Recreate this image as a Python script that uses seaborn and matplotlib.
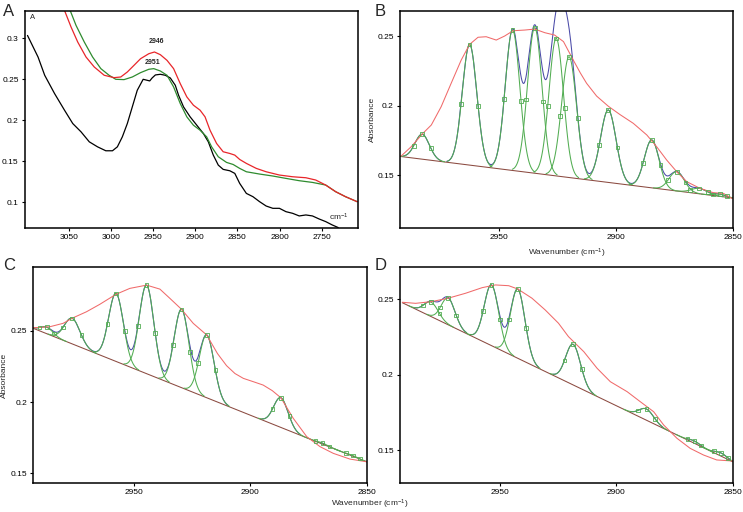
import numpy as np
import pandas as pd
import matplotlib
matplotlib.use('Agg')
import matplotlib.pyplot as plt
import seaborn as sns

# ---- panel A : raw spectra (wavenumber, absorbance) ----
a_black_wn = [3099, 3086.5, 3078.6, 3066.9, 3055.1, 3045.3, 3035.5, 3025.7, 3015.9, 3006.1,
              2998.2, 2992.4, 2986.5, 2980.6, 2974.7, 2968.8, 2961.8, 2957.1, 2954.0, 2951.2,
              2947.3, 2941.4, 2935.5, 2929.6, 2923.7, 2919.8, 2913.9, 2906.1, 2898.2, 2890.4,
              2884.5, 2878.6, 2872.7, 2866.9, 2859.0, 2853.1, 2847.3, 2839.4, 2831.6, 2823.7,
              2815.9, 2808.0, 2800.2, 2792.4, 2784.5, 2776.7, 2768.8, 2761.0, 2753.1, 2745.3,
              2737.5, 2730.4]
a_black_abs = [0.3032, 0.2769, 0.2546, 0.2323, 0.2120, 0.1957, 0.1856, 0.1734, 0.1673, 0.1625,
               0.1625, 0.1673, 0.1795, 0.1957, 0.2160, 0.2363, 0.2497, 0.2485, 0.2477, 0.2513,
               0.2550, 0.2558, 0.2546, 0.2513, 0.2424, 0.2302, 0.2160, 0.2039, 0.1937, 0.1836,
               0.1734, 0.1572, 0.1450, 0.1398, 0.1381, 0.1349, 0.1227, 0.1105, 0.1065, 0.1004,
               0.0951, 0.0923, 0.0923, 0.0882, 0.0862, 0.0830, 0.0842, 0.0830, 0.0793, 0.0761,
               0.0720, 0.0688]
a_red_wn = [3055.1, 3047.3, 3039.4, 3029.6, 3019.8, 3008.0, 2996.3, 2988.4, 2980.6, 2972.7,
            2964.9, 2955.1, 2948.4, 2941.4, 2933.5, 2925.7, 2917.8, 2910.0, 2902.2, 2894.3,
            2888.4, 2882.5, 2874.7, 2866.9, 2859.0, 2853.1, 2847.3, 2839.4, 2827.6, 2815.9,
            2800.2, 2784.5, 2768.8, 2757.1, 2745.3, 2733.5, 2721.8, 2708.0]
a_red_abs = [0.3337, 0.3134, 0.2951, 0.2769, 0.2647, 0.2546, 0.2517, 0.2525, 0.2586, 0.2667,
             0.2748, 0.2809, 0.2830, 0.2797, 0.2728, 0.2627, 0.2444, 0.2282, 0.2181, 0.2120,
             0.2039, 0.1876, 0.1714, 0.1613, 0.1592, 0.1572, 0.1519, 0.1471, 0.1410, 0.1369,
             0.1329, 0.1308, 0.1296, 0.1268, 0.1207, 0.1126, 0.1065, 0.1004]
a_green_wn = [3048.4, 3041.4, 3031.6, 3021.8, 3012.0, 3002.2, 2994.3, 2984.5, 2974.7, 2964.9,
              2955.1, 2949.2, 2941.4, 2933.5, 2925.7, 2917.8, 2910.0, 2902.2, 2894.3, 2886.5,
              2880.6, 2872.7, 2862.9, 2855.1, 2847.3, 2839.4, 2823.7, 2808.0, 2792.4, 2776.7,
              2761.0, 2745.3, 2733.5, 2721.8, 2708.0]
a_green_abs = [0.3337, 0.3154, 0.2951, 0.2769, 0.2627, 0.2546, 0.2497, 0.2493, 0.2525, 0.2578,
               0.2619, 0.2627, 0.2598, 0.2546, 0.2404, 0.2201, 0.2039, 0.1937, 0.1876, 0.1795,
               0.1673, 0.1552, 0.1483, 0.1458, 0.1410, 0.1369, 0.1341, 0.1317, 0.1288, 0.1260,
               0.1239, 0.1207, 0.1126, 0.1065, 0.1004]
a_peak_labels = ["2946", "2951"]
a_peak_wn = [2945.5, 2950.4]
a_peak_abs = [0.2963, 0.2707]

# ---- panel B : band fit ----
b_env_wn = [2992.0, 2987.7, 2982.7, 2979.1, 2974.9, 2970.6, 2966.3, 2962.7, 2959.1, 2955.6,
            2951.3, 2947.7, 2944.1, 2939.1, 2934.8, 2930.5, 2926.3, 2922.5, 2918.3, 2915.3,
            2912.6, 2908.3, 2903.3, 2898.3, 2892.6, 2886.8, 2882.6, 2878.3, 2874.0, 2869.7,
            2864.0, 2858.3, 2854.0, 2850.4]
b_env_abs = [0.1637, 0.1704, 0.1800, 0.1860, 0.1991, 0.2160, 0.2327, 0.2440, 0.2491, 0.2495,
             0.2471, 0.2500, 0.2538, 0.2543, 0.2550, 0.2524, 0.2507, 0.2460, 0.2327, 0.2235,
             0.2160, 0.2068, 0.1995, 0.1935, 0.1872, 0.1788, 0.1704, 0.1608, 0.1524, 0.1452,
             0.1404, 0.1373, 0.1368, 0.1332]
b_base_wn = [2993, 2850]
b_base_abs = [0.1635, 0.1335]
b_centers = [2983.0, 2962.7, 2944.3, 2934.8, 2925.6, 2920.1, 2903.3, 2884.7, 2874.0, 2864.4, 2855.5]
b_tops = [0.1793, 0.2440, 0.2543, 0.2560, 0.2483, 0.2351, 0.1968, 0.1752, 0.1524, 0.1404, 0.1362]
b_hwhm = [3.65, 3.65, 3.65, 3.65, 3.65, 3.75, 3.9, 3.7, 3.8, 3.9, 3.0]

# ---- panel C ----
c_env_wn = [2993.0, 2985.9, 2980.2, 2975.9, 2970.2, 2964.5, 2957.6, 2951.6, 2944.4, 2938.7,
            2934.4, 2929.4, 2924.4, 2918.6, 2914.0, 2910.1, 2906.5, 2902.9, 2898.5, 2894.4,
            2890.5, 2886.8, 2881.5, 2875.7, 2870.0, 2864.3, 2857.2, 2850.0]
c_env_abs = [0.2521, 0.2528, 0.2552, 0.2591, 0.2633, 0.2685, 0.2755, 0.2797, 0.2820, 0.2792,
             0.2727, 0.2650, 0.2552, 0.2470, 0.2340, 0.2255, 0.2200, 0.2166, 0.2142, 0.2119,
             0.2080, 0.2030, 0.1886, 0.1757, 0.1687, 0.1640, 0.1600, 0.1581]
c_base_wn = [2993, 2850]
c_base_abs = [0.2517, 0.1581]
c_centers = [2987.2, 2976.3, 2957.5, 2944.4, 2929.4, 2918.6, 2886.8, 2869.0, 2856.0]
c_tops = [0.2524, 0.2587, 0.2762, 0.2820, 0.2650, 0.2470, 0.2030, 0.1712, 0.1625]
c_hwhm = [3.2, 3.95, 3.7, 3.7, 3.7, 3.7, 3.65, 3.0, 3.0]

# ---- panel D ----
d_env_wn = [2992.0, 2986.3, 2979.6, 2972.3, 2964.8, 2957.7, 2952.0, 2946.3, 2942.4, 2936.3,
            2930.6, 2924.9, 2920.6, 2914.0, 2908.3, 2902.6, 2895.4, 2889.7, 2884.0, 2879.7,
            2874.0, 2868.3, 2862.6, 2856.9, 2850.0]
d_env_abs = [0.2480, 0.2473, 0.2484, 0.2507, 0.2540, 0.2577, 0.2595, 0.2590, 0.2568, 0.2507,
             0.2429, 0.2341, 0.2252, 0.2152, 0.2042, 0.1953, 0.1887, 0.1820, 0.1754, 0.1666,
             0.1578, 0.1511, 0.1467, 0.1434, 0.1427]
d_base_wn = [2992, 2850]
d_base_abs = [0.2477, 0.1422]
d_centers = [2979.6, 2972.3, 2953.7, 2942.4, 2918.6, 2887.1, 2866.5, 2855.0]
d_tops = [0.2480, 0.2507, 0.2595, 0.2568, 0.2201, 0.1772, 0.1560, 0.1480]
d_hwhm = [3.6, 3.5, 3.65, 3.65, 3.75, 3.7, 3.0, 3.0]

RED = '#e8262a'
GREEN = '#2e8b2e'
ENV = '#f06a6a'
FIT_GREEN = '#52ad52'
BLUE = '#4a4aa8'
BASE = '#8b4a40'

sns.set_theme(style="white")
plt.rcParams['font.family'] = ['Liberation Sans', 'DejaVu Sans']
plt.rcParams['mathtext.fontset'] = 'custom'
plt.rcParams['mathtext.rm'] = 'Liberation Sans'
plt.rcParams['mathtext.it'] = 'Liberation Sans'


def style_axes(ax, xlim, ylim, xticks, yticks, ylabels):
    ax.set_xlim(*xlim)
    ax.set_ylim(*ylim)
    ax.set_xticks(xticks)
    ax.set_xticklabels([str(t) for t in xticks])
    ax.set_yticks(yticks)
    ax.set_yticklabels(ylabels)
    ax.tick_params(axis='both', labelsize=6, length=2.5, width=0.8, pad=2,
                   bottom=True, left=True, direction='out', colors='black')
    for s in ax.spines.values():
        s.set_color('black')
        s.set_linewidth(1.1)
    ax.set_xlabel('')
    ax.set_ylabel('')


def draw_fit(ax, env_wn, env_abs, base_wn, base_abs, centers, tops, hwhm):
    slope = (base_abs[0] - base_abs[1]) / (base_wn[0] - base_wn[1])

    def baseline(x):
        return base_abs[1] + (np.asarray(x) - base_wn[1]) * slope

    grid = np.linspace(min(base_wn), max(base_wn), 1200)
    total = np.zeros_like(grid)
    comps = []
    for c, t, w in zip(centers, tops, hwhm):
        h = t - baseline(c)
        sig = w / np.sqrt(2 * np.log(2))
        comps.append((c, h, sig, w))
        total += h * np.exp(-(grid - c) ** 2 / (2 * sig ** 2))

    # summed fit (blue), only where it rises off the baseline
    fit = baseline(grid) + total
    fit_show = np.where(total > 0.0006, fit, np.nan)
    ax.plot(grid, fit_show, color=BLUE, lw=0.75)
    # straight baseline
    sns.lineplot(x=base_wn, y=base_abs, ax=ax, color=BASE, lw=0.75, sort=False, estimator=None)

    mx, my = [], []
    for c, h, sig, w in comps:
        xs = np.linspace(c - 3.1 * sig, c + 3.1 * sig, 120)
        ys = baseline(xs) + h * np.exp(-(xs - c) ** 2 / (2 * sig ** 2))
        ax.plot(xs, ys, color=FIT_GREEN, lw=0.75)
        mx += [c - w, c, c + w]
        my += [baseline(c - w) + h / 2, baseline(c) + h, baseline(c + w) + h / 2]

    sns.lineplot(x=env_wn, y=env_abs, ax=ax, color=ENV, lw=0.75, sort=False, estimator=None)
    sns.scatterplot(x=mx, y=my, ax=ax, marker='s', s=7, facecolors='none',
                    edgecolors=FIT_GREEN, linewidths=0.6, zorder=5)


fig = plt.figure(figsize=(7.43, 5.12), dpi=100)
axA = fig.add_axes([0.0336, 0.5547, 0.4482, 0.4238])
axB = fig.add_axes([0.5384, 0.5547, 0.4478, 0.4238])
axC = fig.add_axes([0.0448, 0.0566, 0.4487, 0.4219])
axD = fig.add_axes([0.5384, 0.0572, 0.4478, 0.4219])

# panel A
sns.lineplot(x=a_black_wn, y=a_black_abs, ax=axA, color='black', lw=0.9, sort=False, estimator=None)
sns.lineplot(x=a_green_wn, y=a_green_abs, ax=axA, color=GREEN, lw=0.9, sort=False, estimator=None)
sns.lineplot(x=a_red_wn, y=a_red_abs, ax=axA, color=RED, lw=0.9, sort=False, estimator=None)
for lab, x, y in zip(a_peak_labels, a_peak_wn, a_peak_abs):
    axA.text(x, y, lab, fontsize=5, fontweight='bold', ha='center', va='center')
axA.text(0.024, 0.968, 'A', transform=axA.transAxes, fontsize=5.5, ha='center', va='center')
axA.text(0.943, 0.05, 'cm$^{-1}$', transform=axA.transAxes, fontsize=6, ha='center', va='center')
style_axes(axA, (3102, 2707), (0.0683, 0.333), [3050, 3000, 2950, 2900, 2850, 2800, 2750],
           [0.1, 0.15, 0.2, 0.25, 0.3], ['0.1', '0.15', '0.2', '0.25', '0.3'])

draw_fit(axB, b_env_wn, b_env_abs, b_base_wn, b_base_abs, b_centers, b_tops, b_hwhm)
style_axes(axB, (2992.5, 2850), (0.1119, 0.268), [2950, 2900, 2850],
           [0.15, 0.2, 0.25], ['0.15', '0.2', '0.25'])
axB.set_xlabel('Wavenumber (cm$^{-1}$)', fontsize=6, labelpad=4)
axB.set_ylabel('Absorbance', fontsize=6, labelpad=1)

draw_fit(axC, c_env_wn, c_env_abs, c_base_wn, c_base_abs, c_centers, c_tops, c_hwhm)
style_axes(axC, (2993, 2850), (0.1432, 0.2947), [2950, 2900, 2850],
           [0.15, 0.2, 0.25], ['0.15', '0.2', '0.25'])
axC.set_ylabel('Absorbance', fontsize=6, labelpad=2)

draw_fit(axD, d_env_wn, d_env_abs, d_base_wn, d_base_abs, d_centers, d_tops, d_hwhm)
style_axes(axD, (2993, 2850), (0.1283, 0.2716), [2950, 2900, 2850],
           [0.15, 0.2, 0.25], ['0.15', '0.2', '0.25'])

fig.text(370 / 743, 1 - 504 / 512, 'Wavenumber (cm$^{-1}$)', fontsize=6, ha='center', va='center')

for lab, x, y in [('A', 3, 4), ('B', 375, 4), ('C', 3, 258), ('D', 375, 258)]:
    fig.text(x / 743, 1 - y / 512, lab, fontsize=12, ha='left', va='top')

fig.savefig('out.png', dpi=100)
